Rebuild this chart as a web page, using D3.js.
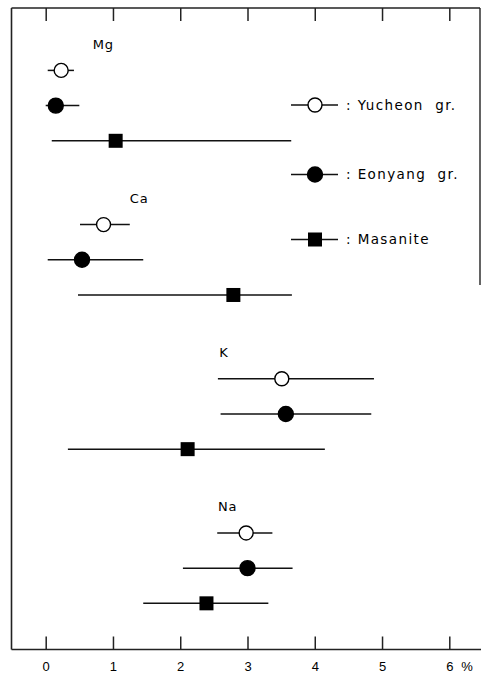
<!DOCTYPE html>
<html>
<head>
<meta charset="utf-8">
<script src="https://cdn.jsdelivr.net/npm/d3@7"></script>
<style>
  body { margin: 0; background: #fff; }
  svg { display: block; font-family: "DejaVu Sans", "Liberation Sans", sans-serif; }
</style>
</head>
<body>
<div id="chart"></div>
<script>
// elements and groups
const elements = ["Mg", "Ca", "K", "Na"];
const groups = ["Yucheon  gr.", "Eonyang  gr.", "Masanite"];
const symbols = ["open", "filled", "square"];

// mean, min, max (%) per element, one array per group
const yucheonMean = [0.23, 0.86, 3.51, 2.98];
const yucheonMin  = [0.03, 0.51, 2.56, 2.55];
const yucheonMax  = [0.42, 1.25, 4.88, 3.37];

const eonyangMean = [0.15, 0.54, 3.57, 3.00];
const eonyangMin  = [0.00, 0.03, 2.60, 2.04];
const eonyangMax  = [0.50, 1.45, 4.84, 3.67];

const masaniteMean = [1.04, 2.79, 2.11, 2.39];
const masaniteMin  = [0.09, 0.48, 0.33, 1.45];
const masaniteMax  = [3.65, 3.66, 4.15, 3.31];

const xTicks = [0, 1, 2, 3, 4, 5, 6];
// where the element name sits, in % units
const labelAt = [0.7, 1.25, 2.58, 2.56];

const means = [yucheonMean, eonyangMean, masaniteMean];
const mins = [yucheonMin, eonyangMin, masaniteMin];
const maxs = [yucheonMax, eonyangMax, masaniteMax];

let rows = [];
elements.forEach((el, i) => {
    groups.forEach((g, j) => {
        rows.push({el: i, grp: j, mean: means[j][i], lo: mins[j][i], hi: maxs[j][i]});
    });
});

const W = 481, H = 679;
const frame = {left: 11.5, top: 8, right: 480, bottom: 649.5};

let x = d3.scaleLinear().domain([0, 6]).range([45.7, 449.3]);
// row position: element block of 4.4 units, one unit per group
let y = d3.scaleLinear().domain([0, 1]).range([70.4, 105.6]);
const rowPos = (e, g) => e * 4.38 + g;

let svg = d3.select("#chart").append("svg")
    .attr("width", W)
    .attr("height", H);

// frame
svg.append("line").attr("x1", frame.left).attr("x2", frame.right)
    .attr("y1", frame.top).attr("y2", frame.top)
    .attr("stroke", "#222").attr("stroke-width", 1.6);
svg.append("line").attr("x1", frame.left).attr("x2", frame.left)
    .attr("y1", frame.top).attr("y2", frame.bottom)
    .attr("stroke", "#222").attr("stroke-width", 1.6);
svg.append("line").attr("x1", frame.right).attr("x2", frame.right)
    .attr("y1", frame.top).attr("y2", 285)
    .attr("stroke", "#222").attr("stroke-width", 1.4);

// bottom axis
let xAxis = d3.axisBottom(x).tickValues(xTicks).tickSize(0).tickPadding(0).tickFormat(d3.format("d"));
let gx = svg.append("g")
    .attr("transform", "translate(0," + frame.bottom + ")")
    .call(xAxis);
gx.select(".domain").remove();
gx.append("line").attr("x1", frame.left).attr("x2", W)
    .attr("y1", 0).attr("y2", 0)
    .attr("stroke", "#222").attr("stroke-width", 1.6);
gx.selectAll(".tick").append("line")
    .attr("y1", 0).attr("y2", -13)
    .attr("stroke", "#222").attr("stroke-width", 1.5);
gx.selectAll(".tick text")
    .attr("y", 17)
    .attr("dy", "0.35em")
    .attr("fill", "#000")
    .style("font-size", "13px");
gx.append("text")
    .attr("x", 467).attr("y", 17).attr("dy", "0.35em")
    .attr("text-anchor", "middle")
    .attr("fill", "#000")
    .style("font-size", "13px")
    .text("%");

// top axis ticks
let gTop = svg.append("g")
    .attr("transform", "translate(0," + frame.top + ")")
    .call(d3.axisTop(x).tickValues(xTicks).tickSize(0).tickFormat(""));
gTop.select(".domain").remove();
gTop.selectAll(".tick").append("line")
    .attr("y1", 0).attr("y2", 13)
    .attr("stroke", "#222").attr("stroke-width", 1.5);

// element labels
svg.selectAll(".elLabel")
    .data(elements)
    .enter().append("text")
    .attr("class", "elLabel")
    .attr("x", (d, i) => x(labelAt[i]))
    .attr("y", (d, i) => y(rowPos(i, -0.75)))
    .attr("dy", "0.35em")
    .attr("fill", "#000")
    .style("font-size", "13px")
    .style("letter-spacing", "0.8px")
    .text(d => d);

function drawSymbol(sel, kind) {
    if (kind === "square") {
        sel.append("rect")
            .attr("x", -7).attr("y", -7)
            .attr("width", 14).attr("height", 14)
            .attr("fill", "#000");
    } else {
        sel.append("circle")
            .attr("r", kind === "open" ? 7 : 7.5)
            .attr("fill", kind === "open" ? "#fff" : "#000")
            .attr("stroke", "#000")
            .attr("stroke-width", 1.4);
    }
}

// range lines and means
let g = svg.selectAll(".row")
    .data(rows)
    .enter().append("g")
    .attr("class", "row");

g.append("line")
    .attr("x1", d => x(d.lo))
    .attr("x2", d => x(d.hi))
    .attr("y1", d => y(rowPos(d.el, d.grp)))
    .attr("y2", d => y(rowPos(d.el, d.grp)))
    .attr("stroke", "#111")
    .attr("stroke-width", 1.5);

g.each(function(d) {
    let s = d3.select(this).append("g")
        .attr("transform", "translate(" + x(d.mean) + "," + y(rowPos(d.el, d.grp)) + ")");
    drawSymbol(s, symbols[d.grp]);
});

// legend
const legendY = [105, 174.5, 239.5];
let leg = svg.selectAll(".legend")
    .data(groups)
    .enter().append("g")
    .attr("class", "legend")
    .attr("transform", (d, i) => "translate(315," + legendY[i] + ")");

leg.append("line")
    .attr("x1", -24).attr("x2", 23)
    .attr("stroke", "#111").attr("stroke-width", 1.5);
leg.each(function(d, i) { drawSymbol(d3.select(this), symbols[i]); });
leg.append("text")
    .attr("x", 31)
    .attr("dy", "0.35em")
    .attr("fill", "#000")
    .style("font-size", "13.5px")
    .style("letter-spacing", "1.4px")
    .style("white-space", "pre")
    .text(d => ": " + d);
</script>
</body>
</html>
